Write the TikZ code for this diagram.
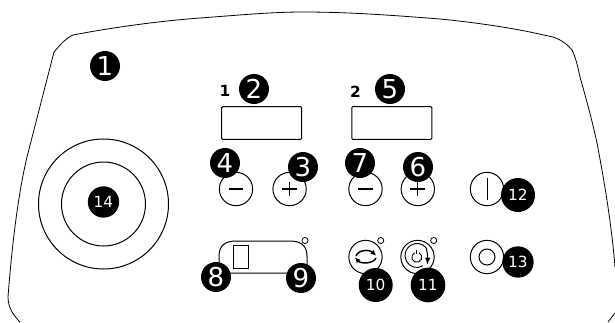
\documentclass[tikz,border=0pt]{standalone}
\usepackage{fontspec}
\setmainfont{DejaVu Sans}
\usetikzlibrary{arrows.meta}
\tikzset{
  px/.style={x=0.75pt,y=-0.75pt},
  ln/.style={draw=black,line width=0.75pt},
  btn/.style={circle,ln,fill=white,minimum size=25pt,inner sep=0pt,outer sep=0pt},
  led/.style={circle,draw=black,line width=0.6pt,fill=white,minimum size=4.6pt,inner sep=0pt},
  ring/.style={circle,ln,inner sep=0pt},
  disp/.style={draw=black,line width=0.75pt,rounded corners=0.8pt,fill=white,minimum width=60pt,minimum height=24.5pt,inner sep=0pt},
  bdg/.style={circle,fill=black,text=white,font=\fontsize{19.5}{19.5}\selectfont,minimum size=22.5pt,inner sep=0pt},
  bdgs/.style={circle,fill=black,text=white,font=\fontsize{11.5}{11.5}\selectfont,minimum size=24pt,inner sep=0pt},
  lbl/.style={font=\bfseries\fontsize{11.5}{11.5}\selectfont,inner sep=0pt},
}
\begin{document}
\begin{tikzpicture}[px]
\useasboundingbox (0,0) rectangle (615,322);
% panel outline
\draw[ln,line width=0.6pt,line cap=round] (20,322) .. controls (13,315) and (8,307) .. (8,297)
  .. controls (12,245) and (18,195) .. (27,157)
  -- (54,52) .. controls (60,45) and (66,38) .. (73,35)
  .. controls (115,27) and (160,21) .. (200,18)
  .. controls (235,15.5) and (270,12) .. (303,12)
  .. controls (350,12) and (395,15.5) .. (440,19)
  .. controls (470,22) and (500,26) .. (530,32)
  -- (553,37) .. controls (562,40) and (568,45) .. (572,50)
  .. controls (576,58) and (578,68) .. (580,77)
  .. controls (586,98) and (592,120) .. (597,143)
  .. controls (606,190) and (612,230) .. (615,267);
\draw[ln,line width=0.6pt] (615,313) -- (608,322);
% joystick
\node[ring,minimum size=97.5pt] (joyo) at (103.5,204) {};
\node[ring,minimum size=63pt] (joyi) at (103.5,204) {};
% displays
\node[disp] (d1) at (261.7,123) {};
\node[disp] (d2) at (391.8,123) {};
\node[lbl] (l1) at (225,91) {1};
\node[lbl] (l2) at (355.5,92) {2};
% plus / minus buttons
\node[btn] (m1) at (236,189) {};
\node[btn] (p1) at (289.6,189) {};
\node[btn] (m2) at (365.5,189) {};
\node[btn] (p2) at (417.8,189) {};
\foreach \n in {m1,p1,m2,p2}{\draw[line width=1pt] ([xshift=-5.5pt]\n.center) -- ([xshift=5.5pt]\n.center);}
\foreach \n in {p1,p2}{\draw[line width=1pt] ([yshift=-5.5pt]\n.center) -- ([yshift=5.5pt]\n.center);}
% on / off
\node[btn] (on) at (487,189) {};
\draw[line width=0.6pt] ([yshift=-8pt]on.center) -- ([yshift=8pt]on.center);
\node[btn] (off) at (487,257) {};
\node[ring,minimum size=12pt] (offi) at (487,257) {};
% selector
\draw[ln] (219,273) -- (219,256) .. controls (219,245) and (226,241) .. (236,241) -- (290,241)
  .. controls (300,241) and (307,245) .. (307,256) -- (307,273) -- cycle;
\node[draw=black,line width=0.75pt,minimum width=11.5pt,minimum height=17.2pt,inner sep=0pt] (sw) at (241.3,257.2) {};
\node[led] (ld1) at (305,240.5) {};
% cycle button
\node[btn] (b10) at (365.5,257) {};
\node[led] (ld2) at (380.7,240.5) {};
\draw[line width=1.1pt,-{Latex[length=4pt,width=4pt]}] (356,256) .. controls (358,250) and (369,249) .. (376,255.5);
\draw[line width=1.1pt,-{Latex[length=4pt,width=4pt]}] (376,258) .. controls (373,264) and (361,264) .. (355,257.5);
% rotation button
\node[btn] (b11) at (417.5,257) {};
\node[led] (ld3) at (433.7,240.5) {};
\coordinate (spc) at (417,255.5);
\draw[line width=0.7pt] (spc) ++(60:12) arc[start angle=60,end angle=320,radius=12];
\draw[line width=0.8pt,-{Latex[length=5.5pt,width=4pt]}] (spc) ++(320:12) .. controls (427,251) and (427.8,257) .. (427.3,265);
\coordinate (spi) at (416.8,257.3);
\draw[line width=0.7pt] (spi) ++(-65:5) arc[start angle=-65,end angle=245,radius=5];
\draw[line width=0.7pt] (416.5,250) -- (416.5,254);
% badges
\node[bdg] (n1) at (105,66) {1};
\node[bdg] (n2) at (254,89) {2};
\node[bdg] (n3) at (303,167) {3};
\node[bdg] (n4) at (225,163) {4};
\node[bdg] (n5) at (390,89) {5};
\node[bdg] (n6) at (418,167) {6};
\node[bdg] (n7) at (360,163) {7};
\node[bdg] (n8) at (216,277) {8};
\node[bdg] (n9) at (301,278) {9};
\node[bdgs,minimum size=25.5pt] (n10) at (375.7,285) {10};
\node[bdgs,minimum size=26pt] (n11) at (428,285) {11};
\node[bdgs,minimum size=25.5pt] (n12) at (518,195) {12};
\node[bdgs,minimum size=23.5pt] (n13) at (518,262) {13};
\node[bdgs,minimum size=23.5pt] (n14) at (103.5,202) {14};
\end{tikzpicture}
\end{document}
